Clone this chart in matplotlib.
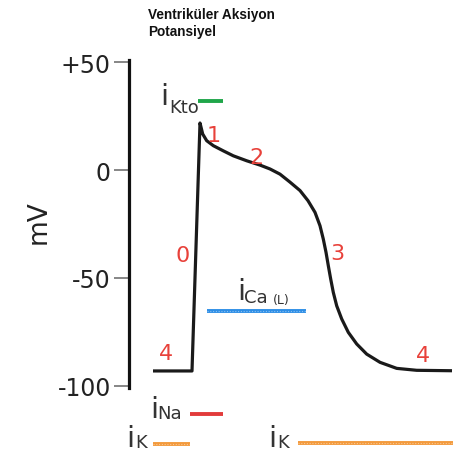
import matplotlib
matplotlib.use("Agg")
import matplotlib.pyplot as plt

# action potential trace (time in ms, membrane potential in mV)
time_ms = [-39, 0, 8, 10.7, 14.7, 21.3, 31.3, 41.3, 54.7, 68, 78, 88, 98, 108, 116,
           123, 128, 131.3, 134, 136.3, 138.7, 141.3, 144.7, 149.7, 156.3, 164.7,
           174.7, 188, 204.7, 224.7, 260]
voltage_mv = [-93.1, -93.1, 21.8, 16.7, 13.6, 11.3, 8.9, 6.6, 4.3, 2.3, 0.5, -1.9,
              -5.6, -9.5, -14.2, -19.6, -25.8, -32.0, -38.1, -44.3, -50.5, -56.7,
              -62.9, -69.0, -75.2, -80.6, -85.3, -89.1, -91.9, -92.8, -93.0]

# ionic currents: active window (ms) and the level the bar is drawn at
current_names = ["Kto", "Ca(L)", "Na", "K", "K"]
current_start = [6, 15, -2, -39, 106]
current_end = [31, 114, 31, -2, 261]
current_level = [32.0, -65.3, -113.1, -127.0, -126.5]
current_colors = ["#1fa64a", "#2d8ee6", "#e23b3b", "#f39a3c", "#f39a3c"]

# phase numbers
phase_labels = ["0", "1", "2", "3", "4", "4"]
phase_x = [-9, 22, 64, 145, -26, 231]
phase_y = [-42.2, 13.4, 3.2, -41.2, -87.6, -88.5]

yticks = [50, 0, -50, -100]
ytick_labels = ["+50", "0", "-50", "-100"]

plt.rcParams["font.family"] = "DejaVu Sans"

fig = plt.figure(figsize=(4.64, 4.52), dpi=100)
ax = fig.add_axes([129 / 464, 63 / 452, 335 / 464, 328 / 452])
ax.set_xlim(-63, 272)
ax.set_ylim(-101, 51)

for side in ["top", "right", "bottom"]:
    ax.spines[side].set_visible(False)
ax.spines["left"].set_linewidth(2.3)
ax.spines["left"].set_color("#111111")
ax.set_xticks([])
ax.set_yticks(yticks)
ax.set_yticklabels(ytick_labels, fontsize=17, color="#222222")
ax.tick_params(axis="y", length=11, width=1.1, color="#666666", pad=2)
ax.set_ylabel("mV", fontsize=19, color="#222222")
ax.yaxis.set_label_coords(-0.23, 0.51)

ax.plot(time_ms, voltage_mv, color="#1a1a1a", lw=2.3, solid_joinstyle="round",
        solid_capstyle="butt")

for lab, x, y in zip(phase_labels, phase_x, phase_y):
    ax.text(x, y, lab, color="#e8413a", fontsize=16, ha="center", va="baseline")

for i, name in enumerate(current_names):
    xs = [current_start[i], current_end[i]]
    ys = [current_level[i], current_level[i]]
    ax.plot(xs, ys, color=current_colors[i], lw=2.8, solid_capstyle="butt", clip_on=False)
    if name in ("Ca(L)", "K"):
        # dotted sheen on the long bars
        ax.plot(xs, ys, color="#ffffff", lw=0.8, alpha=0.45, ls=(0, (1, 1.5)), clip_on=False)


def current_label(x_i, y_i, x_sub, y_sub, sub, extra=None):
    ax.text(x_i, y_i, "i", fontsize=21, color="#333333", ha="left", va="baseline")
    ax.text(x_sub, y_sub, sub, fontsize=13, color="#333333", ha="left", va="baseline")
    if extra:
        ax.text(extra[0], extra[1], extra[2], fontsize=9, color="#333333",
                ha="left", va="baseline")


current_label(-32, 30.6, -23, 26.9, "Kto")
current_label(45, -59.8, 52, -61.2, "Ca", (81, -61.6, "(L)"))
current_label(-42, -114.5, -35, -114.9, "Na")
current_label(-66, -127.9, -57, -128.4, "K")
current_label(76, -127.9, 85, -128.4, "K")

fig.text(148 / 464, 1 - 8 / 452, "Ventriküler Aksiyon\nPotansiyel", fontsize=9.8,
         fontweight="bold", family="Liberation Sans", color="#111111",
         ha="left", va="top", linespacing=1.3)

fig.savefig("out.png", dpi=100)
